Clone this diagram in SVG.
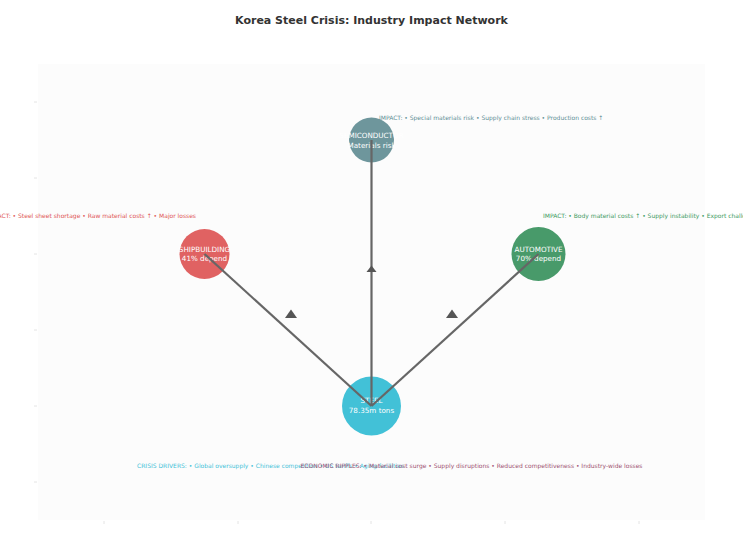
<svg xmlns="http://www.w3.org/2000/svg" width="743" height="557" viewBox="0 0 743 557">
<style>
text{font-family:"DejaVu Sans","Liberation Sans",sans-serif}
.title{font-size:11px;font-weight:bold;fill:#333;text-anchor:middle}
.nl{font-size:7.2px;fill:#fff;text-anchor:middle}
.imp{font-size:6px}
.edge{stroke:#666;stroke-width:2.2;fill:none}
.tick{stroke:#ddd;stroke-width:0.8}
.tri{fill:#555}
</style>
<rect width="743" height="557" fill="#fff"/>
<rect x="38" y="64" width="667" height="456" fill="#fcfcfc"/>
<g id="ticks">
<line class="tick" x1="34" y1="102" x2="37" y2="102"/>
<line class="tick" x1="34" y1="178" x2="37" y2="178"/>
<line class="tick" x1="34" y1="254" x2="37" y2="254"/>
<line class="tick" x1="34" y1="330" x2="37" y2="330"/>
<line class="tick" x1="34" y1="406" x2="37" y2="406"/>
<line class="tick" x1="34" y1="482" x2="37" y2="482"/>
<line class="tick" x1="104" y1="521" x2="104" y2="524"/>
<line class="tick" x1="238" y1="521" x2="238" y2="524"/>
<line class="tick" x1="371" y1="521" x2="371" y2="524"/>
<line class="tick" x1="505" y1="521" x2="505" y2="524"/>
<line class="tick" x1="639" y1="521" x2="639" y2="524"/>
</g>
<text class="title" x="371.5" y="24">Korea Steel Crisis: Industry Impact Network</text>
<g id="n-semi">
<circle cx="371.5" cy="140" r="22.5" fill="#6e969c"/>
<text class="nl" x="371.5" y="138">SEMICONDUCTOR</text>
<text class="nl" x="371.5" y="147.5">Materials risk</text>
</g>
<g id="n-ship">
<circle cx="204.5" cy="254" r="25" fill="#e06262"/>
<text class="nl" x="204.5" y="251.5">SHIPBUILDING</text>
<text class="nl" x="204.5" y="261">41% depend</text>
</g>
<g id="n-auto">
<circle cx="538.5" cy="254" r="27" fill="#489a6a"/>
<text class="nl" x="538.5" y="251.5">AUTOMOTIVE</text>
<text class="nl" x="538.5" y="261">70% depend</text>
</g>
<g id="n-steel">
<circle cx="371.5" cy="406" r="29.5" fill="#42c1d7"/>
<text class="nl" x="371.5" y="402.5">STEEL</text>
<text class="nl" x="371.5" y="412.5">78.35m tons</text>
</g>
<g id="connectors">
<line class="edge" x1="371.5" y1="406" x2="371.5" y2="140"/>
<line class="edge" x1="371.5" y1="406" x2="204.5" y2="254"/>
<line class="edge" x1="371.5" y1="406" x2="538.5" y2="254"/>
<polygon class="tri" points="371.5,265.5 366.5,272 376.5,272"/>
<polygon class="tri" points="291,309.5 285,318 297,318"/>
<polygon class="tri" points="452,309.5 446,318 458,318"/>
</g>
<g id="labels">
<text class="imp" x="379" y="119.5" fill="#5f8f96">IMPACT: • Special materials risk • Supply chain stress • Production costs ↑</text>
<text class="imp" x="196" y="218" fill="#e05555" text-anchor="end">IMPACT: • Steel sheet shortage • Raw material costs ↑ • Major losses</text>
<text class="imp" x="543" y="218" fill="#3c9a62">IMPACT: • Body material costs ↑ • Supply instability • Export challenges</text>
<text class="imp" x="137" y="468" fill="#45c2d8">CRISIS DRIVERS: • Global oversupply • Chinese competition • US tariffs • Aging facilities</text>
<text class="imp" x="471.5" y="468" fill="#a05272" text-anchor="middle">ECONOMIC RIPPLES: • Material cost surge • Supply disruptions • Reduced competitiveness • Industry-wide losses</text>
</g>
</svg>
